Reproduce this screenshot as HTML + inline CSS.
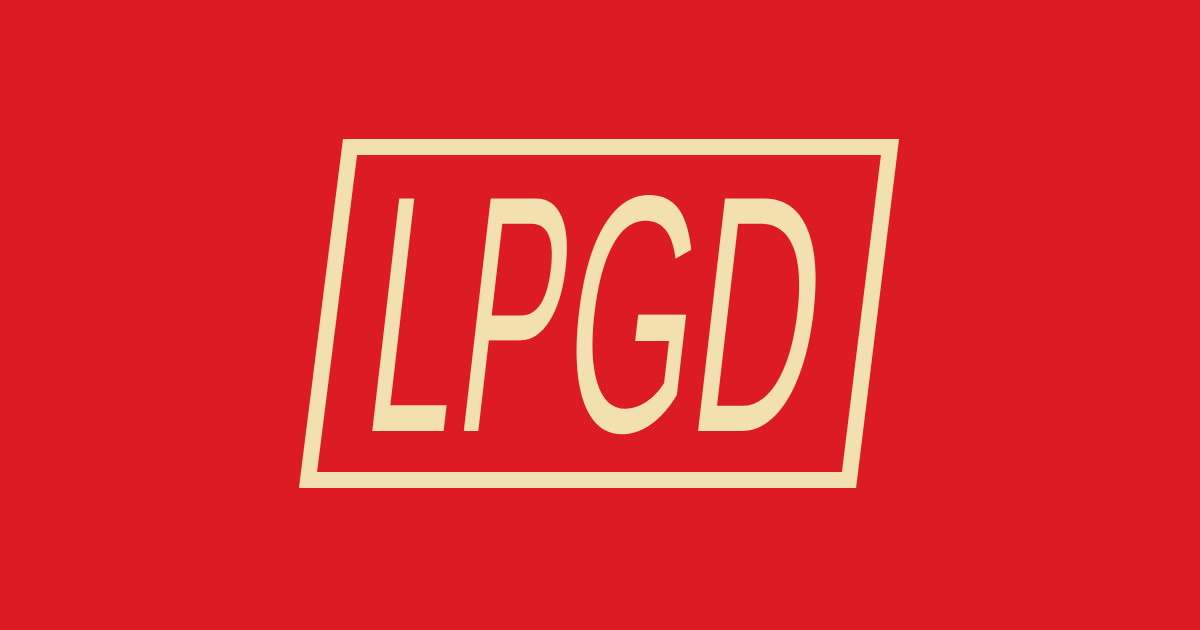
<!DOCTYPE html>
<html><head><meta charset="utf-8"><style>
html,body{margin:0;padding:0;background:#DC1C22;}
svg{display:block}
text{font-family:"Liberation Sans Narrow","Liberation Sans",sans-serif;fill:#F2E0B0;}
</style></head>
<body>
<svg width="1200" height="630" viewBox="0 0 1200 630">
<rect width="1200" height="630" fill="#DC1C22"/>
<polygon points="350,147 890,147 849,480 308,480" fill="none" stroke="#F2E0B0" stroke-width="16"/>
<g transform="translate(0,431) skewX(-6.6)">
<text x="359" y="0" font-size="338" textLength="90" lengthAdjust="spacingAndGlyphs">L</text>
<text x="451" y="0" font-size="338" textLength="104" lengthAdjust="spacingAndGlyphs">P</text>
<text x="557" y="0" font-size="338" textLength="128" lengthAdjust="spacingAndGlyphs">G</text>
<text x="684" y="0" font-size="338" textLength="124" lengthAdjust="spacingAndGlyphs">D</text>
</g>
</svg>
</body></html>
